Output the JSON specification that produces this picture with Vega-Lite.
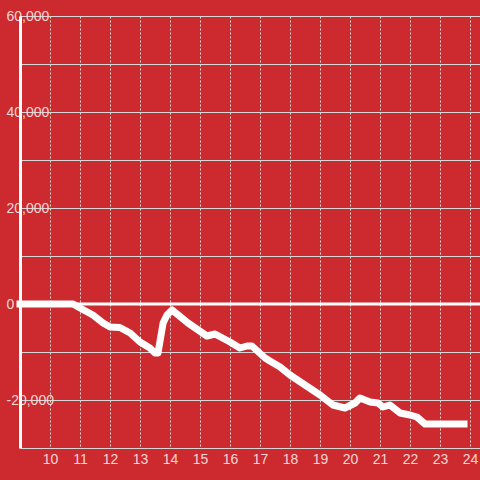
{
  "$schema": "https://vega.github.io/schema/vega-lite/v6.json",
  "autosize": {"type": "none"},
  "padding": {"left": 20, "top": 16, "right": 0, "bottom": 32},
  "width": 460,
  "height": 432,
  "background": "#cd2a2f",
  "config": {"view": {"stroke": null}, "font": "Liberation Sans"},
  "encoding": {
    "y": {
      "field": "v", "type": "quantitative",
      "scale": {"domain": [-30000, 60000], "nice": false},
      "axis": {
        "values": [-30000, -20000, -10000, 0, 10000, 20000, 30000, 40000, 50000, 60000],
        "format": ",d",
        "labelExpr": "datum.value % 20000 === 0 ? replace(datum.label, '\u2212', '-') : ''",
        "title": null, "domain": true, "domainColor": "#ffffff", "domainWidth": 3,
        "ticks": false, "tickSize": 0,
        "labelAlign": "left", "labelBaseline": "middle", "labelPadding": 14,
        "labelFontSize": 14, "labelColor": "#f4d6d6", "labelOverlap": false, "labelFont": "Liberation Sans",
        "grid": true, "gridColor": "#d6d6d6", "gridWidth": 1
      }
    }
  },
  "layer": [
    {
      "data": {"values": [{"v": 0}]},
      "mark": {"type": "rule", "color": "#ffffff", "strokeWidth": 3}
    },
    {
      "data": {
        "values": [
          {"t": 9.0, "v": 0},
          {"t": 10.77, "v": 0},
          {"t": 11.0, "v": -833},
          {"t": 11.43, "v": -2292},
          {"t": 11.77, "v": -3958},
          {"t": 12.0, "v": -4792},
          {"t": 12.33, "v": -4896},
          {"t": 12.67, "v": -6042},
          {"t": 13.0, "v": -7917},
          {"t": 13.33, "v": -9167},
          {"t": 13.5, "v": -10208},
          {"t": 13.6, "v": -10208},
          {"t": 13.77, "v": -3958},
          {"t": 13.9, "v": -2292},
          {"t": 14.07, "v": -1250},
          {"t": 14.6, "v": -3958},
          {"t": 15.23, "v": -6667},
          {"t": 15.5, "v": -6250},
          {"t": 16.0, "v": -7917},
          {"t": 16.33, "v": -9167},
          {"t": 16.57, "v": -8750},
          {"t": 16.73, "v": -8750},
          {"t": 17.17, "v": -11250},
          {"t": 17.33, "v": -11875},
          {"t": 17.67, "v": -13125},
          {"t": 18.0, "v": -14792},
          {"t": 18.5, "v": -16875},
          {"t": 19.0, "v": -18958},
          {"t": 19.43, "v": -21042},
          {"t": 19.83, "v": -21667},
          {"t": 20.17, "v": -20625},
          {"t": 20.33, "v": -19583},
          {"t": 20.67, "v": -20417},
          {"t": 20.93, "v": -20625},
          {"t": 21.1, "v": -21458},
          {"t": 21.33, "v": -21042},
          {"t": 21.67, "v": -22708},
          {"t": 22.0, "v": -23125},
          {"t": 22.23, "v": -23542},
          {"t": 22.5, "v": -25000},
          {"t": 23.8, "v": -25000}
        ]
      },
      "mark": {"type": "line", "color": "#ffffff", "strokeWidth": 7, "strokeCap": "square", "strokeJoin": "round"},
      "encoding": {
        "x": {
          "field": "t", "type": "quantitative",
          "scale": {"domain": [9, 24.333], "nice": false, "zero": false},
          "axis": {
            "values": [10, 11, 12, 13, 14, 15, 16, 17, 18, 19, 20, 21, 22, 23, 24],
            "title": null, "domain": false, "ticks": false, "tickSize": 0,
            "labelPadding": 4, "labelFontSize": 14, "labelColor": "#f4d6d6", "labelFlush": false,
            "labelOverlap": false, "labelFont": "Liberation Sans",
            "grid": true, "gridColor": "#dddddd", "gridDash": [2, 2], "gridWidth": 1
          }
        }
      }
    }
  ]
}
